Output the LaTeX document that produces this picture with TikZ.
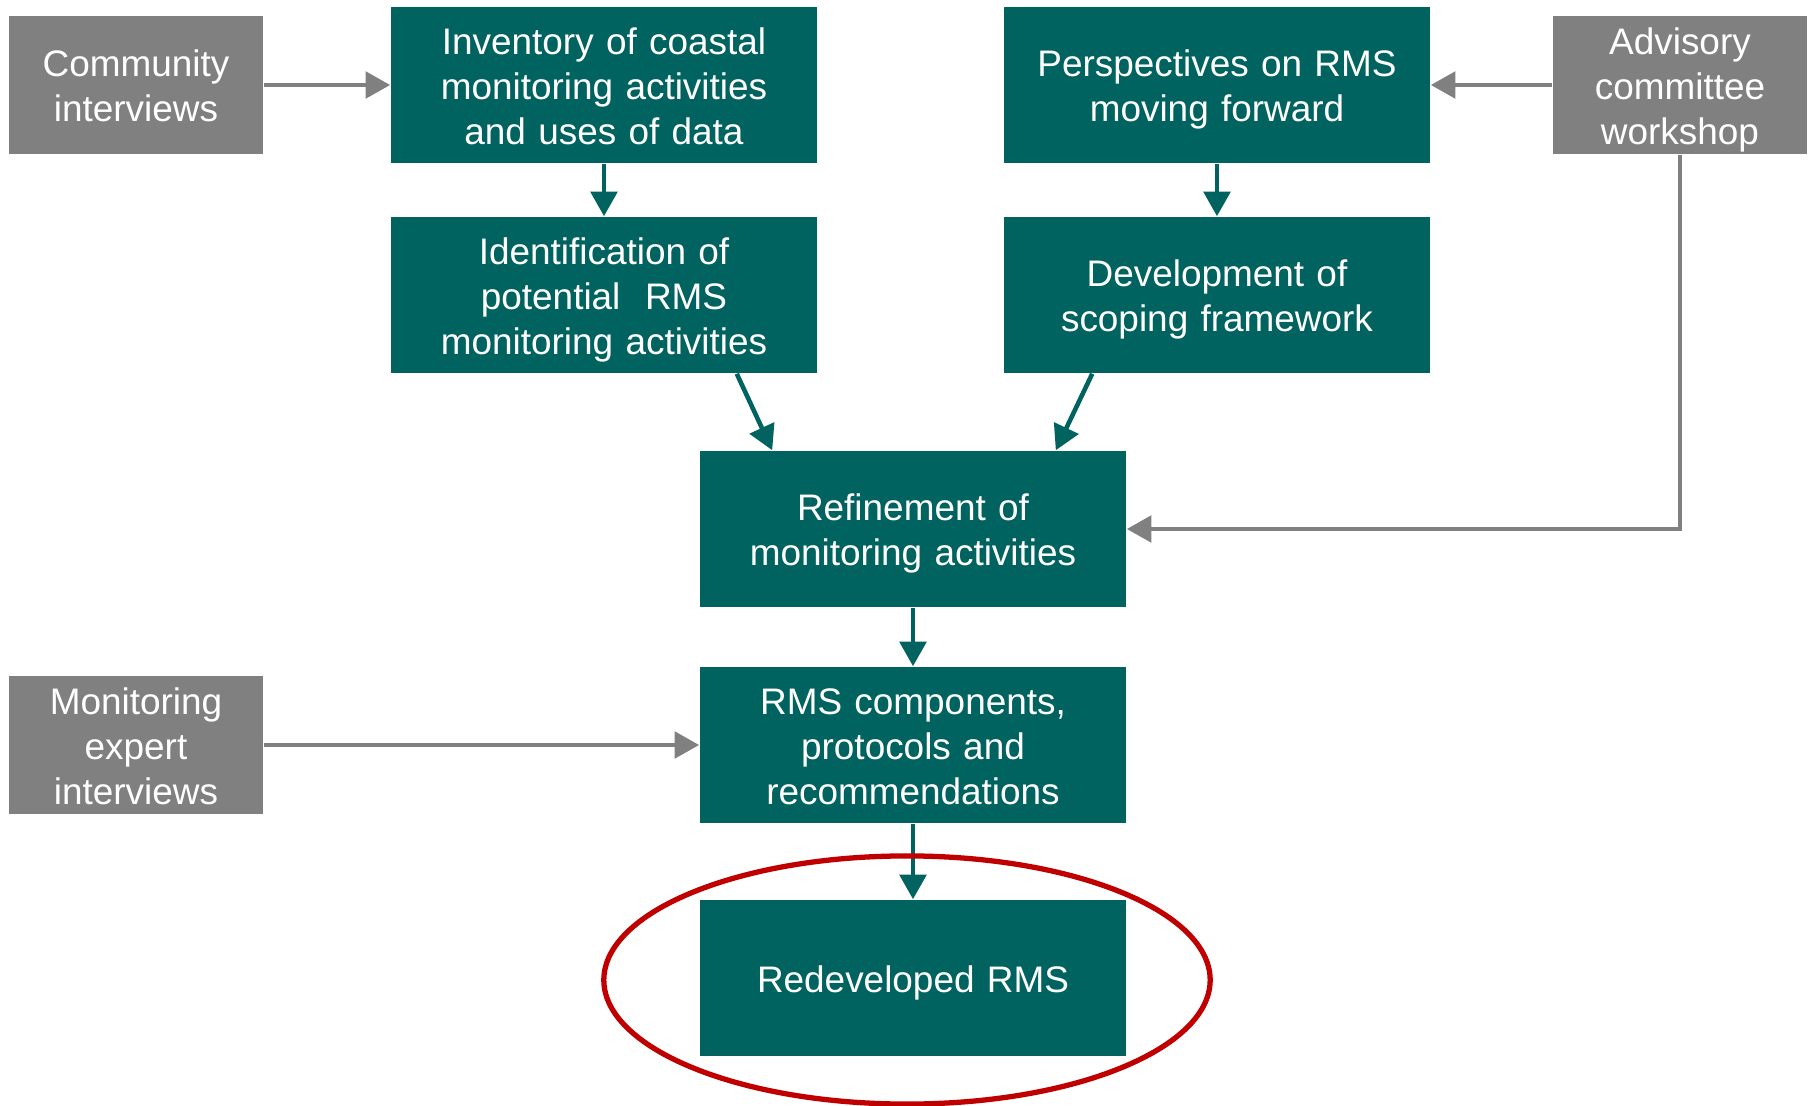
\documentclass[tikz,border=0pt]{standalone}
\usepackage{fontspec}
\setmainfont{Liberation Sans}
\usetikzlibrary{arrows.meta}
\definecolor{boxteal}{RGB}{0,99,96}
\definecolor{boxgrey}{RGB}{128,128,128}
\definecolor{ringred}{RGB}{192,0,0}

\begin{document}
\begin{tikzpicture}[x=0.01cm,y=-0.01cm,
		boxtext/.style={text=white,align=center,inner sep=0pt,
			execute at begin node={\rule{0pt}{10.5pt}},execute at end node={\rule[-2.3pt]{0pt}{2.3pt}}},
		tealbox/.style={boxtext,fill=boxteal,text width=4.1cm,minimum width=4.26cm,minimum height=1.56cm},
		greybox/.style={boxtext,fill=boxgrey,text width=2.5cm,minimum width=2.54cm,minimum height=1.38cm},
		tealarrow/.style={draw=boxteal,line width=1.3pt,-{Triangle[length=7pt,width=7.5pt]}},
		greyarrow/.style={draw=boxgrey,line width=1.3pt,-{Triangle[length=7pt,width=7.5pt]}},
		font=\fontsize{10.5}{12.8}\selectfont]
		\useasboundingbox (0,0) rectangle (1814,1106);
		\node[greybox](community) at (136,85) {Community\\interviews};
		\node[tealbox](inventory) at (604,85) {Inventory of coastal\\monitoring activities\\and uses of data};
		\node[tealbox](perspectives) at (1217,85) {Perspectives on RMS\\moving forward};
		\node[greybox](advisory) at (1680,85) {Advisory\\committee\\workshop};
		\node[tealbox](identification) at (604,295) {Identification of\\potential\ \ RMS\\monitoring activities};
		\node[tealbox](development) at (1217,295) {Development of\\scoping framework};
		\node[tealbox](refinement) at (913,529) {Refinement of\\monitoring activities};
		\node[tealbox](components) at (913,745) {RMS components,\\protocols and\\recommendations};
		\node[greybox](expert) at (136,745) {Monitoring\\expert\\interviews};
		\node[tealbox](redeveloped) at (913,978) {Redeveloped RMS};
		\draw[greyarrow] (community)--(inventory);
		\draw[greyarrow] (advisory)--(perspectives);
		\draw[greyarrow] (advisory.south)|-(refinement.east);
		\draw[greyarrow] (expert)--(components);
		\draw[tealarrow] (inventory)--(identification);
		\draw[tealarrow] (perspectives)--(development);
		\draw[tealarrow] ([xshift=-0.81cm]identification.south east)--([xshift=0.73cm]refinement.north west);
		\draw[tealarrow] ([xshift=0.89cm]development.south west)--([xshift=-0.71cm]refinement.north east);
		\draw[tealarrow] (refinement)--(components);
		\draw[tealarrow] (components)--(redeveloped);
		% circle round the result
		\draw[ringred,line width=1.5pt] (907,980) ellipse (3.03cm and 1.24cm);
	\end{tikzpicture}
\end{document}
